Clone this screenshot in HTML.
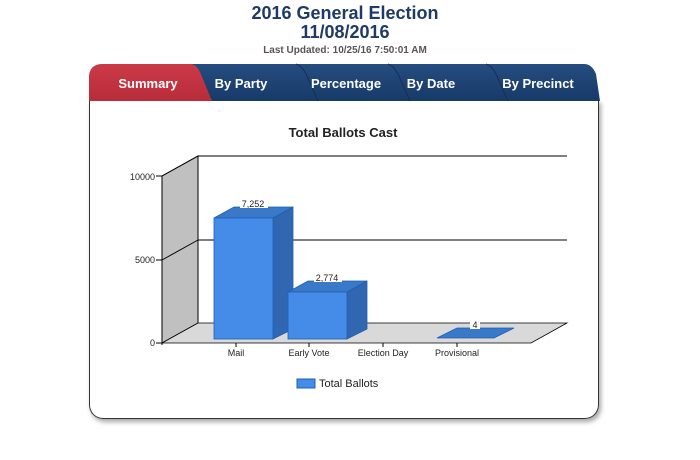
<!DOCTYPE html><html><head><style>
body{margin:0;width:700px;height:460px;background:#fff;font-family:"Liberation Sans",sans-serif;position:relative;overflow:hidden}
.t{position:absolute;left:0;width:690px;text-align:center;color:#1f3a64;font-weight:bold}
</style></head><body>
<div class="t" style="top:4px;font-size:18px;line-height:19px">2016 General Election<br>11/08/2016</div>
<div class="t" style="top:45px;font-size:10px;color:#555">Last Updated: 10/25/16 7:50:01 AM</div>
<div style="position:absolute;left:89px;top:100px;width:508px;height:318px;border:1px solid #333;border-top:none;border-radius:0 0 14px 14px;box-shadow:2px 3px 5px rgba(0,0,0,.35)"></div>
<svg width="700" height="460" style="position:absolute;left:0;top:0" font-family="Liberation Sans, sans-serif">
<defs><linearGradient id="b" x1="0" y1="0" x2="0" y2="1"><stop offset="0" stop-color="#254d80"/><stop offset="1" stop-color="#173a68"/></linearGradient>
<linearGradient id="r" x1="0" y1="0" x2="0" y2="1"><stop offset="0" stop-color="#cc3a48"/><stop offset="1" stop-color="#b82c3a"/></linearGradient></defs>
<path d="M89,101 L89,78 Q89,64 103,64 L584,64 Q592,64 596,74 L600,101 Z" fill="url(#b)"/>
<path d="M89,101 L89,78 Q89,64 103,64 L190,64 Q196,64 200,72 L212,101 Z" fill="url(#r)"/>
<g stroke="#123058" stroke-width="1" fill="none"><path d="M296,64 Q302,66 306,74 L318,101"/><path d="M388,64 Q394,66 398,74 L410,101"/><path d="M486,64 Q492,66 496,74 L508,101"/></g>
<g fill="#fff" font-weight="bold" font-size="13" text-anchor="middle"><text x="148" y="88">Summary</text><text x="241" y="88">By Party</text><text x="346" y="88">Percentage</text><text x="431" y="88">By Date</text><text x="538" y="88">By Precinct</text></g>
<text x="343" y="137" text-anchor="middle" font-size="13" font-weight="bold" fill="#222">Total Ballots Cast</text>
<polygon points="162,176 198,156 198,323 162,343" fill="#c0c0c0" stroke="#000"/>
<polygon points="162,343 198,323 567,323 531,343" fill="#d9d9d9" stroke="#000" stroke-width=".8"/>
<g stroke="#000" stroke-width="1"><line x1="198" y1="156" x2="567" y2="156"/><line x1="198" y1="240" x2="567" y2="240"/><line x1="162" y1="260" x2="198" y2="240"/><line x1="162" y1="176" x2="198" y2="156"/><line x1="162" y1="176" x2="162" y2="345"/><line x1="156" y1="176" x2="162" y2="176"/><line x1="156" y1="260" x2="162" y2="260"/><line x1="156" y1="343" x2="162" y2="343"/></g>
<g font-size="9" fill="#222" text-anchor="end"><text x="155" y="180">10000</text><text x="155" y="263">5000</text><text x="155" y="346">0</text></g>
<g stroke="#1c5fb5" stroke-width=".8">
<polygon points="273,218 293,207 293,329 273,339" fill="#3067b0"/><polygon points="214,218 234,207 293,207 273,218" fill="#3a78c8"/><rect x="214" y="218" width="59" height="121" fill="#448ce8"/>
<polygon points="347,292 367,281 367,329 347,339" fill="#3067b0"/><polygon points="288,292 308,281 367,281 347,292" fill="#3a78c8"/><rect x="288" y="292" width="59" height="47" fill="#448ce8"/>
<polygon points="437,338 457,328 514,328 494,338" fill="#3a78c8"/></g>
<g font-size="9" fill="#222" text-anchor="middle"><rect x="240" y="199" width="28" height="9" fill="#fff"/><text x="253" y="207">7,252</text><rect x="314" y="273" width="28" height="9" fill="#fff"/><text x="327" y="281">2,774</text><rect x="470" y="320" width="10" height="9" fill="#fff"/><text x="475" y="328">4</text>
<text x="236" y="356">Mail</text><text x="309" y="356">Early Vote</text><text x="383" y="356">Election Day</text><text x="457" y="356">Provisional</text></g>
<g stroke="#000"><line x1="236" y1="343" x2="236" y2="347"/><line x1="309" y1="343" x2="309" y2="347"/><line x1="383" y1="343" x2="383" y2="347"/><line x1="457" y1="343" x2="457" y2="347"/></g>
<rect x="297" y="379" width="18" height="9" fill="#448ce8" stroke="#1c5fb5"/>
<text x="319" y="387" font-size="11" fill="#222">Total Ballots</text>
</svg></body></html>
